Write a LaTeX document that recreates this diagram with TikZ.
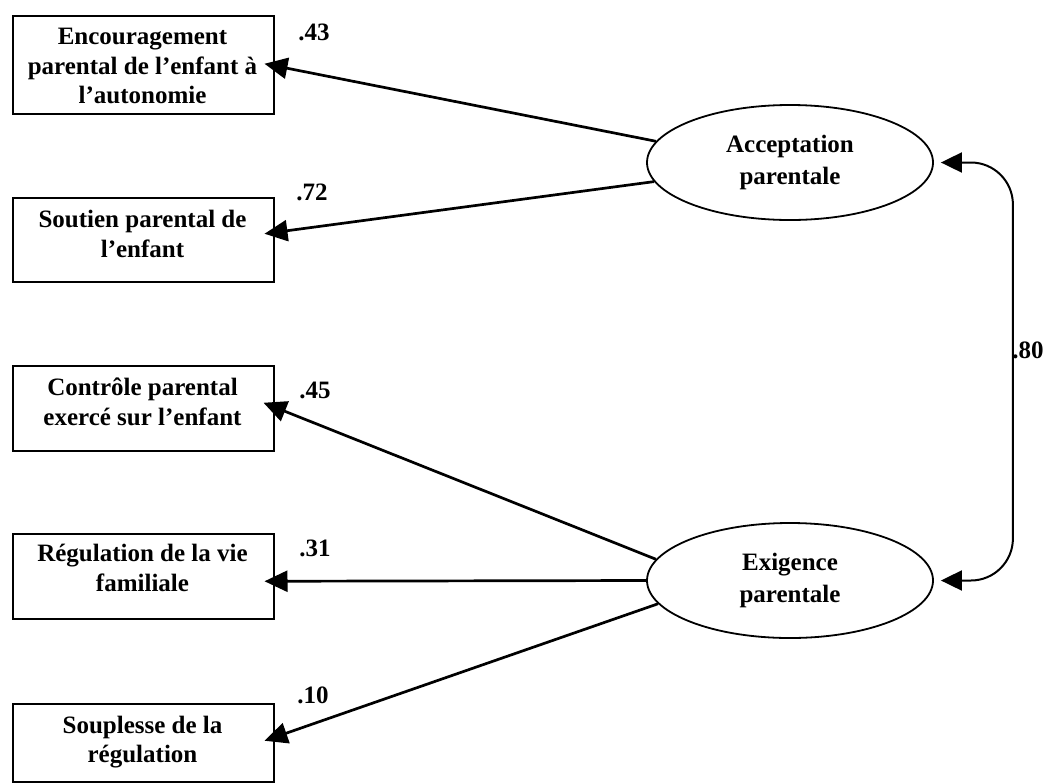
\documentclass[tikz,border=0pt]{standalone}
\usepackage{fontspec}
\setmainfont{Liberation Serif}
\usetikzlibrary{arrows.meta,calc,shapes.geometric}
\begin{document}
\begin{tikzpicture}[x=1pt,y=-1pt,
  txt/.style={font=\fontsize{25}{29.5}\selectfont\bfseries, align=center, inner sep=0pt},
  box/.style={draw, line width=1.5pt, minimum width=261pt, inner sep=0pt, anchor=north west},
  latent/.style={draw, ellipse, line width=1.8pt, minimum width=286pt, minimum height=115pt, inner sep=0pt,
    font=\fontsize{25}{32}\selectfont\bfseries, align=center},
  arr/.style={line width=2.7pt, -{Triangle[length=23pt,width=21pt]}},
  cov/.style={line width=2pt, {Triangle[length=21pt,width=20pt]}-{Triangle[length=21pt,width=20pt]}, rounded corners=42pt},
  coef/.style={font=\fontsize{25}{28}\selectfont\bfseries, inner sep=0pt}
]
\fill[white] (0,0) rectangle (1043,782);
\useasboundingbox (0,0) rectangle (1043,782);

% observed variables
\node[box, minimum height=98pt] (b1) at (12,15) {};
\node[box, minimum height=84pt] (b2) at (12,197) {};
\node[box, minimum height=85pt] (b3) at (12,365) {};
\node[box, minimum height=85pt] (b4) at (12,533) {};
\node[box, minimum height=78pt] (b5) at (12,703) {};

\node[txt] (t1) at (142.5,66) {Encouragement\\parental de l'enfant à\\l'autonomie};
\node[txt] (t2) at (142.5,234) {Soutien parental de\\l'enfant};
\node[txt] (t3) at (142.5,402) {Contrôle parental\\exercé sur l'enfant};
\node[txt] (t4) at (142.5,568) {Régulation de la vie\\familiale};
\node[txt] (t5) at (142.5,742) {Souplesse de la\\régulation};

% latent variables
\node[latent] (A) at (790,162.5) {Acceptation\\parentale};
\node[latent] (E) at (790,580.5) {Exigence\\parentale};

% loadings
\draw[arr] (A.171.8) -- ($(b1.east)+(-10,-1)$);
\draw[arr] (A.188.1) -- ($(b2.east)+(-10,-6)$);
\draw[arr] (E.171.4) -- ($(b3.east)+(-11,-5.5)$);
\draw[arr] (E.west) -- ($(b4.east)+(-10,5)$);
\draw[arr] (E.190.3) -- ($(b5.east)+(-10,-2)$);

% covariance
\draw[cov] ($(A.east)+(7,0)$) -- ($(A.east)+(79,0)$) -- ($(E.east)+(79,0)$) -- ($(E.east)+(7,0)$);

% coefficients
\node[coef] (c1) at (314,32) {.43};
\node[coef] (c2) at (312,192) {.72};
\node[coef] (c3) at (315,390) {.45};
\node[coef] (c4) at (315,548) {.31};
\node[coef] (c5) at (313,695) {.10};
\node[coef] (c6) at (1028,350) {.80};
\end{tikzpicture}
\end{document}
